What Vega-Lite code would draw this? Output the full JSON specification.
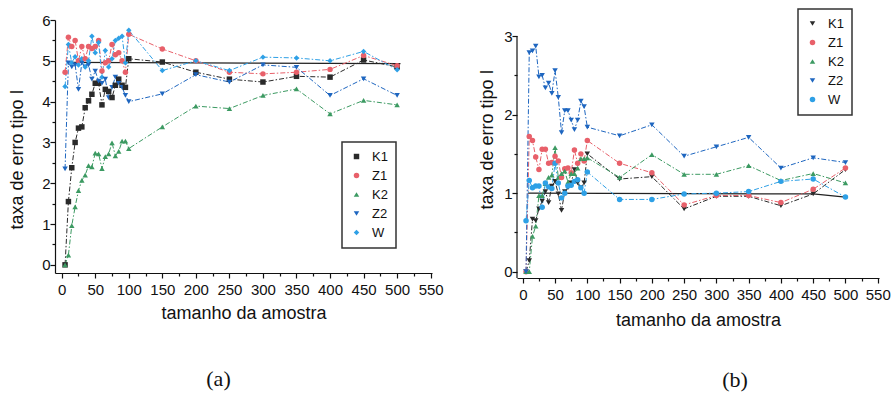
{
  "$schema": "https://vega.github.io/schema/vega-lite/v6.json",
  "background": "white",
  "padding": {"left": 8, "top": 8, "right": 0, "bottom": 4},
  "spacing": 34,
  "align": "none",
  "config": {
    "view": {"stroke": null},
    "font": "Liberation Sans",
    "axis": {"grid": false, "domainColor": "#111", "tickColor": "#111", "labelColor": "#111", "titleColor": "#111", "labelFont": "Liberation Sans", "titleFont": "Liberation Sans", "labelFontSize": 15, "titleFontSize": 18, "titleFontWeight": "normal", "tickSize": 5, "domainWidth": 1.2, "tickWidth": 1.2, "labelPadding": 3, "labelOverlap": false, "labelFlush": false, "format": "d"},
    "legend": {"labelFont": "Liberation Sans", "labelFontSize": 13, "labelColor": "#111", "strokeColor": "#333", "strokeWidth": 1.5, "padding": 8, "rowPadding": 5, "symbolSize": 30, "symbolStrokeWidth": 0, "labelOffset": 9}
  },
  "resolve": {"scale": {"color": "independent", "shape": "independent"}, "legend": {"color": "independent", "shape": "independent"}},
  "datasets": {
    "a": [
      {"n": 5, "K1": 0, "Z1": 4.72, "K2": 0, "Z2": 2.35, "W": 4.37},
      {"n": 10, "K1": 1.55, "Z1": 5.58, "K2": 0.24, "Z2": 4.95, "W": 5.4},
      {"n": 15, "K1": 2.38, "Z1": 5.35, "K2": 0.96, "Z2": 4.85, "W": 4.95},
      {"n": 20, "K1": 3.0, "Z1": 5.5, "K2": 1.42, "Z2": 4.9, "W": 5.1},
      {"n": 25, "K1": 3.35, "Z1": 5.0, "K2": 1.82, "Z2": 4.3, "W": 4.9},
      {"n": 30, "K1": 3.38, "Z1": 5.35, "K2": 2.07, "Z2": 4.95, "W": 5.05},
      {"n": 35, "K1": 3.85, "Z1": 5.05, "K2": 2.2, "Z2": 4.85, "W": 4.85},
      {"n": 40, "K1": 4.02, "Z1": 5.35, "K2": 2.43, "Z2": 4.9, "W": 5.0},
      {"n": 45, "K1": 4.18, "Z1": 5.3, "K2": 2.4, "Z2": 4.55, "W": 5.6},
      {"n": 50, "K1": 4.45, "Z1": 5.35, "K2": 2.74, "Z2": 4.75, "W": 5.2},
      {"n": 55, "K1": 4.45, "Z1": 5.5, "K2": 2.72, "Z2": 4.5, "W": 5.45},
      {"n": 60, "K1": 3.92, "Z1": 4.75, "K2": 2.36, "Z2": 4.45, "W": 4.6},
      {"n": 65, "K1": 4.3, "Z1": 4.95, "K2": 2.65, "Z2": 4.55, "W": 5.25},
      {"n": 70, "K1": 4.25, "Z1": 5.0, "K2": 2.72, "Z2": 4.1, "W": 4.85},
      {"n": 75, "K1": 4.1, "Z1": 5.4, "K2": 2.99, "Z2": 4.35, "W": 5.05},
      {"n": 80, "K1": 4.4, "Z1": 5.15, "K2": 2.67, "Z2": 4.6, "W": 5.5},
      {"n": 85, "K1": 4.55, "Z1": 5.2, "K2": 2.78, "Z2": 4.45, "W": 5.55},
      {"n": 90, "K1": 4.4, "Z1": 5.0, "K2": 3.03, "Z2": 4.35, "W": 5.6},
      {"n": 95, "K1": 4.35, "Z1": 4.72, "K2": 3.03, "Z2": 4.15, "W": 4.95},
      {"n": 100, "K1": 5.05, "Z1": 5.65, "K2": 2.85, "Z2": 4.0, "W": 5.75},
      {"n": 150, "K1": 4.97, "Z1": 5.29, "K2": 3.38, "Z2": 4.19, "W": 4.76},
      {"n": 200, "K1": 4.72, "Z1": 5.0, "K2": 3.89, "Z2": 4.66, "W": 5.0},
      {"n": 250, "K1": 4.55, "Z1": 4.72, "K2": 3.83, "Z2": 4.48, "W": 4.76},
      {"n": 300, "K1": 4.48, "Z1": 4.68, "K2": 4.15, "Z2": 4.9, "W": 5.09},
      {"n": 350, "K1": 4.62, "Z1": 4.72, "K2": 4.31, "Z2": 4.84, "W": 5.07},
      {"n": 400, "K1": 4.6, "Z1": 4.79, "K2": 3.7, "Z2": 4.15, "W": 5.0},
      {"n": 450, "K1": 5.02, "Z1": 5.13, "K2": 4.03, "Z2": 4.56, "W": 5.23},
      {"n": 500, "K1": 4.85, "Z1": 4.88, "K2": 3.92, "Z2": 4.15, "W": 4.78}
    ],
    "b": [
      {"n": 5, "K1": 0, "Z1": 0, "K2": 0, "Z2": 0, "W": 0.65},
      {"n": 10, "K1": 0.14, "Z1": 1.72, "K2": 0, "Z2": 2.79, "W": 1.16},
      {"n": 15, "K1": 0.67, "Z1": 1.67, "K2": 0.45, "Z2": 2.81, "W": 1.07},
      {"n": 20, "K1": 0.65, "Z1": 1.46, "K2": 0.58, "Z2": 2.87, "W": 1.09},
      {"n": 25, "K1": 0.8, "Z1": 1.3, "K2": 0.97, "Z2": 2.48, "W": 1.09},
      {"n": 30, "K1": 0.9, "Z1": 1.56, "K2": 0.97, "Z2": 2.5, "W": 0.82},
      {"n": 35, "K1": 1.02, "Z1": 1.56, "K2": 1.12, "Z2": 2.34, "W": 1.13},
      {"n": 40, "K1": 0.88, "Z1": 1.38, "K2": 1.2, "Z2": 2.4, "W": 1.08},
      {"n": 45, "K1": 1.09, "Z1": 1.39, "K2": 1.23, "Z2": 2.27, "W": 1.06},
      {"n": 50, "K1": 1.15, "Z1": 1.47, "K2": 1.58, "Z2": 2.56, "W": 1.38},
      {"n": 55, "K1": 0.99, "Z1": 1.41, "K2": 1.2, "Z2": 2.22, "W": 1.13},
      {"n": 60, "K1": 0.78, "Z1": 1.2, "K2": 1.25, "Z2": 1.77, "W": 0.94},
      {"n": 65, "K1": 1.02, "Z1": 1.31, "K2": 1.28, "Z2": 2.05, "W": 1.0},
      {"n": 70, "K1": 1.07, "Z1": 1.32, "K2": 1.14, "Z2": 2.05, "W": 1.09},
      {"n": 75, "K1": 1.13, "Z1": 1.26, "K2": 1.25, "Z2": 1.93, "W": 1.1},
      {"n": 80, "K1": 1.3, "Z1": 1.55, "K2": 1.25, "Z2": 1.81, "W": 1.15},
      {"n": 85, "K1": 1.13, "Z1": 1.38, "K2": 1.32, "Z2": 1.93, "W": 1.17},
      {"n": 90, "K1": 1.07, "Z1": 1.5, "K2": 1.44, "Z2": 2.17, "W": 1.07},
      {"n": 95, "K1": 1.13, "Z1": 1.41, "K2": 1.44, "Z2": 2.1, "W": 1.0},
      {"n": 100, "K1": 1.5, "Z1": 1.67, "K2": 1.45, "Z2": 1.84, "W": 1.27},
      {"n": 150, "K1": 1.18, "Z1": 1.38, "K2": 1.2, "Z2": 1.73, "W": 0.92},
      {"n": 200, "K1": 1.21, "Z1": 1.26, "K2": 1.49, "Z2": 1.87, "W": 0.92},
      {"n": 250, "K1": 0.8, "Z1": 0.85, "K2": 1.24, "Z2": 1.47, "W": 0.99},
      {"n": 300, "K1": 0.96, "Z1": 0.97, "K2": 1.24, "Z2": 1.59, "W": 1.0},
      {"n": 350, "K1": 0.96, "Z1": 0.97, "K2": 1.35, "Z2": 1.71, "W": 1.02},
      {"n": 400, "K1": 0.84, "Z1": 0.88, "K2": 1.16, "Z2": 1.32, "W": 1.15},
      {"n": 450, "K1": 0.99, "Z1": 1.05, "K2": 1.25, "Z2": 1.45, "W": 1.18},
      {"n": 500, "K1": 1.3, "Z1": 1.32, "K2": 1.13, "Z2": 1.39, "W": 0.95}
    ],
    "refa": [{"n": 10, "v": 4.96}, {"n": 505, "v": 4.93}],
    "refb": [{"n": 8, "v": 1.0}, {"n": 450, "v": 0.99}, {"n": 500, "v": 0.95}],
    "axb": [{"n": -9, "v0": -0.08, "v1": 3}]
  },
  "hconcat": [
    {
      "width": 377,
      "height": 253,
      "title": {"text": "(a)", "orient": "bottom", "offset": 47, "dx": -25, "font": "Liberation Serif", "fontSize": 22, "fontWeight": "normal", "color": "#111"},
      "resolve": {"axis": {"x": "independent", "y": "independent"}},
      "layer": [
        {
          "data": {"name": "refa"},
          "mark": {"type": "line", "color": "#222", "strokeWidth": 1.2},
          "encoding": {
            "x": {"field": "n", "type": "quantitative", "scale": {"domain": [-10, 552], "nice": false, "zero": false}, "axis": {"values": [0, 50, 100, 150, 200, 250, 300, 350, 400, 450, 500, 550], "labelOverlap": false, "title": "tamanho da amostra", "labelPadding": 4, "titlePadding": 7}},
            "y": {"field": "v", "type": "quantitative", "scale": {"domain": [-0.2, 6], "nice": false, "zero": false}, "axis": {"values": [0, 1, 2, 3, 4, 5, 6], "labelOverlap": false, "title": "taxa de erro tipo I", "labelPadding": 0, "titlePadding": 15, "titleY": 139}}
          }
        },
        {
          "data": {"name": "refa"},
          "mark": {"type": "line", "opacity": 0},
          "encoding": {
            "x": {"field": "n", "type": "quantitative", "axis": {"orient": "bottom", "values": [25, 75, 125, 175, 225, 275, 325, 375, 425, 475, 525], "labels": false, "domain": false, "title": null, "tickSize": 3}},
            "y": {"field": "v", "type": "quantitative", "axis": {"orient": "left", "values": [0.5, 1.5, 2.5, 3.5, 4.5, 5.5], "labels": false, "domain": false, "title": null, "tickSize": 3}}
          }
        },
        {
          "data": {"name": "a"},
          "transform": [{"fold": ["K1", "Z1", "K2", "Z2", "W"], "as": ["serie", "v"]}],
          "mark": {"type": "line", "strokeWidth": 1, "strokeDash": [5, 2, 1.5, 2]},
          "encoding": {
            "x": {"field": "n", "type": "quantitative", "axis": null},
            "y": {"field": "v", "type": "quantitative", "axis": null},
            "detail": {"field": "serie"},
            "color": {"field": "serie", "type": "nominal", "scale": {"domain": ["K1", "Z1", "K2", "Z2", "W"], "range": ["#2a2a2a", "#e8606a", "#3c9a62", "#1e66c0", "#2ea0e6"]}, "legend": {"title": null, "orient": "none", "legendX": 287, "legendY": 122}}
          }
        },
        {
          "data": {"name": "a"},
          "transform": [{"fold": ["K1", "Z1", "K2", "Z2", "W"], "as": ["serie", "v"]}],
          "mark": {"type": "point", "filled": true, "size": 30, "opacity": 1},
          "encoding": {
            "x": {"field": "n", "type": "quantitative", "axis": null},
            "y": {"field": "v", "type": "quantitative", "axis": null},
            "color": {"field": "serie", "type": "nominal", "scale": {"domain": ["K1", "Z1", "K2", "Z2", "W"], "range": ["#2a2a2a", "#e8606a", "#3c9a62", "#1e66c0", "#2ea0e6"]}, "legend": {"title": null, "orient": "none", "legendX": 287, "legendY": 122}},
            "shape": {"field": "serie", "type": "nominal", "scale": {"domain": ["K1", "Z1", "K2", "Z2", "W"], "range": ["square", "circle", "triangle-up", "triangle-down", "diamond"]}, "legend": {"title": null, "orient": "none", "legendX": 287, "legendY": 122}}
          }
        }
      ]
    },
    {
      "width": 362,
      "height": 258,
      "title": {"text": "(b)", "orient": "bottom", "offset": 41, "dx": 37, "font": "Liberation Serif", "fontSize": 22, "fontWeight": "normal", "color": "#111"},
      "resolve": {"axis": {"x": "independent", "y": "independent"}},
      "layer": [
        {
          "data": {"name": "refb"},
          "mark": {"type": "line", "color": "#222", "strokeWidth": 1.2},
          "encoding": {
            "x": {"field": "n", "type": "quantitative", "scale": {"domain": [-9, 552], "nice": false, "zero": false}, "axis": {"values": [0, 50, 100, 150, 200, 250, 300, 350, 400, 450, 500, 550], "labelOverlap": false, "title": "tamanho da amostra", "labelPadding": 4, "titlePadding": 9}},
            "y": {"field": "v", "type": "quantitative", "scale": {"domain": [-0.08, 3.204], "nice": false, "zero": false}, "axis": {"values": [0, 1, 2, 3], "labelOverlap": false, "domain": false, "title": "taxa de erro tipo I", "labelPadding": 0, "titlePadding": 7, "titleY": 119}}
          }
        },
        {
          "data": {"name": "axb"},
          "mark": {"type": "rule", "color": "#111", "strokeWidth": 1.2},
          "encoding": {
            "x": {"field": "n", "type": "quantitative", "axis": null},
            "y": {"field": "v0", "type": "quantitative", "axis": null},
            "y2": {"field": "v1"}
          }
        },
        {
          "data": {"name": "refb"},
          "mark": {"type": "line", "opacity": 0},
          "encoding": {
            "x": {"field": "n", "type": "quantitative", "axis": {"orient": "bottom", "values": [25, 75, 125, 175, 225, 275, 325, 375, 425, 475, 525], "labels": false, "domain": false, "title": null, "tickSize": 3}},
            "y": {"field": "v", "type": "quantitative", "axis": {"orient": "left", "values": [0.5, 1.5, 2.5], "labels": false, "domain": false, "title": null, "tickSize": 3}}
          }
        },
        {
          "data": {"name": "b"},
          "transform": [{"fold": ["K1", "Z1", "K2", "Z2", "W"], "as": ["serie", "v"]}],
          "mark": {"type": "line", "strokeWidth": 1, "strokeDash": [5, 2, 1.5, 2]},
          "encoding": {
            "x": {"field": "n", "type": "quantitative", "axis": null},
            "y": {"field": "v", "type": "quantitative", "axis": null},
            "detail": {"field": "serie"},
            "color": {"field": "serie", "type": "nominal", "scale": {"domain": ["K1", "Z1", "K2", "Z2", "W"], "range": ["#2a2a2a", "#e8606a", "#3c9a62", "#1e66c0", "#2ea0e6"]}, "legend": {"title": null, "orient": "none", "legendX": 281, "legendY": -11}}
          }
        },
        {
          "data": {"name": "b"},
          "transform": [{"fold": ["K1", "Z1", "K2", "Z2", "W"], "as": ["serie", "v"]}],
          "mark": {"type": "point", "filled": true, "size": 30, "opacity": 1},
          "encoding": {
            "x": {"field": "n", "type": "quantitative", "axis": null},
            "y": {"field": "v", "type": "quantitative", "axis": null},
            "color": {"field": "serie", "type": "nominal", "scale": {"domain": ["K1", "Z1", "K2", "Z2", "W"], "range": ["#2a2a2a", "#e8606a", "#3c9a62", "#1e66c0", "#2ea0e6"]}, "legend": {"title": null, "orient": "none", "legendX": 281, "legendY": -11}},
            "shape": {"field": "serie", "type": "nominal", "scale": {"domain": ["K1", "Z1", "K2", "Z2", "W"], "range": ["triangle-down", "circle", "triangle-up", "triangle-down", "circle"]}, "legend": {"title": null, "orient": "none", "legendX": 281, "legendY": -11}}
          }
        }
      ]
    }
  ]
}
